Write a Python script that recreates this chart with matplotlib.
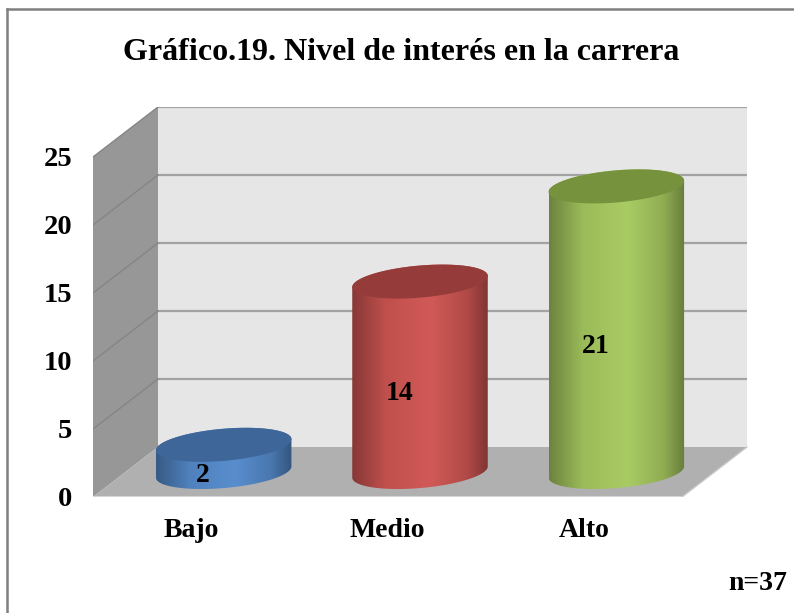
import numpy as np
import matplotlib
matplotlib.use("Agg")
import matplotlib.pyplot as plt
from matplotlib.patches import Polygon
from matplotlib.colors import to_rgb
from matplotlib.lines import Line2D

# ---- data ----
categories = ["Bajo", "Medio", "Alto"]
values = [2, 14, 21]
yticks = [0, 5, 10, 15, 20, 25]
title = "Gráfico.19. Nivel de interés en la carrera"
note = "n=37"

# ---- styles ----
body_cols = ["#4f81bd", "#c0504d", "#9bbb59"]
top_cols = ["#3e6699", "#953c3a", "#76923c"]

W, H = 794, 613
fig = plt.figure(figsize=(W / 100, H / 100), dpi=100)
plt.rcParams['font.family'] = ['Liberation Serif', 'DejaVu Serif']

# axes geometry in pixels
x_front_l, x_front_r = 93, 682
x_back_r = 748
y_front0, y_top_front = 497, 157
y_back_top = 107
ax = fig.add_axes([x_front_l / W, (H - y_front0) / H,
                   (x_back_r - x_front_l) / W, (y_front0 - y_back_top) / H])
SX = (x_front_r - x_front_l) / 3.0
SY = (y_front0 - y_top_front) / 25.0
DX = 65 / SX
DY = 50 / SY
xmin, xmax = -0.5, 2.5
ymax = 25

for s in ax.spines.values():
    s.set_visible(False)
ax.patch.set_alpha(0)

# walls
back = Polygon([(xmin + DX, DY), (xmax + DX, DY), (xmax + DX, ymax + DY), (xmin + DX, ymax + DY)],
               closed=True, facecolor="#e6e6e6", edgecolor="none", zorder=1)
ax.add_patch(back)
left = Polygon([(xmin, 0), (xmin, ymax), (xmin + DX, ymax + DY), (xmin + DX, DY)],
               closed=True, facecolor="#979797", edgecolor="none", zorder=1)
ax.add_patch(left)
floor = Polygon([(xmin, 0), (xmax, 0), (xmax + DX, DY), (xmin + DX, DY)],
                closed=True, facecolor="#b0b0b0", edgecolor="none", zorder=2)
ax.add_patch(floor)
ax.plot([xmin, xmax], [0, 0], color="#d4d4d4", lw=1.5, zorder=2.5, solid_capstyle="butt")
ax.plot([xmax, xmax + DX], [0, DY], color="#c8c8c8", lw=1.0, zorder=2.5)

# gridlines
for v in yticks[1:]:
    ax.plot([xmin + DX, xmax + DX], [v + DY, v + DY], color="#a3a3a3", lw=1.6, zorder=1.5,
            solid_capstyle="butt")
    ax.plot([xmin, xmin + DX], [v, v + DY], color="#858585", lw=1.0, zorder=1.5)


def ellipse_pts(cx, cy, a=68, b=16, th=np.deg2rad(5), n=400):
    t = np.linspace(0, 2 * np.pi, n, endpoint=False)
    px = a * np.cos(t) * np.cos(th) - b * np.sin(t) * np.sin(th)
    py = a * np.cos(t) * np.sin(th) + b * np.sin(t) * np.cos(th)
    return t, cx + px / SX, cy + py / SY


def gradient_img(base):
    base = np.array(to_rgb(base))
    dark = base * 0.7
    light = np.clip(base * 1.06 + 0.02, 0, 1)
    u = np.linspace(0, 1, 256)
    stops = [0, 0.25, 0.58, 0.85, 1.0]
    cols = [dark, base, light, base * 0.92, dark * 0.95]
    img = np.zeros((1, 256, 3))
    for c in range(3):
        img[0, :, c] = np.interp(u, stops, [col[c] for col in cols])
    return img


for i, (v, bc, tc) in enumerate(zip(values, body_cols, top_cols)):
    cx = i + DX / 2
    cy0 = DY / 2
    t, ex, ey = ellipse_pts(cx, cy0)
    il, ir = np.argmin(ex), np.argmax(ex)
    arc1 = []
    k = il
    while True:
        arc1.append(k)
        if k == ir:
            break
        k = (k + 1) % len(t)
    arc2 = []
    k = il
    while True:
        arc2.append(k)
        if k == ir:
            break
        k = (k - 1) % len(t)
    lower = arc1 if ey[arc1].min() < ey[arc2].min() else arc2
    upper = arc2 if lower is arc1 else arc1
    bx, by = ex[lower], ey[lower]
    tx, ty = ex[upper][::-1], ey[upper][::-1] + v
    poly_x = np.concatenate([bx, tx])
    poly_y = np.concatenate([by, ty])
    body = Polygon(np.column_stack([poly_x, poly_y]), closed=True, facecolor="none",
                   edgecolor="none", zorder=3)
    ax.add_patch(body)
    im = ax.imshow(gradient_img(bc), extent=[ex.min(), ex.max(), ey.min() - 0.5, ey.max() + v + 0.5],
                   aspect="auto", zorder=3, interpolation="bilinear")
    im.set_clip_path(body)
    top = Polygon(np.column_stack([ex, ey + v]), closed=True, facecolor=tc, edgecolor="none",
                  zorder=4)
    ax.add_patch(top)
    ax.text(i + 0.06, v / 2 + 0.6, str(v), ha="center", va="center", fontsize=20,
            fontweight="bold", zorder=6)

ax.set_xlim(xmin, xmax + (x_back_r - x_front_r) / SX)
ax.set_ylim(0, ymax + (y_front0 - y_back_top - (y_front0 - y_top_front)) / SY)

ax.set_yticks(yticks)
ax.set_yticklabels([str(y) for y in yticks], fontsize=20.5, fontweight="bold")
ax.set_xticks(range(len(categories)))
ax.set_xticklabels(categories, fontsize=20, fontweight="bold")
ax.tick_params(axis="y", length=0, pad=15)
ax.tick_params(axis="x", length=0, pad=15)

fig.text(401 / W, 1 - 52 / H, title, ha="center", va="center", fontsize=23, fontweight="bold")
fig.text(787 / W, 1 - 583 / H, note, ha="right", va="center", fontsize=20, fontweight="bold")

# outer border (top and left)
fig.add_artist(Line2D([7 / W, 1], [1 - 9 / H, 1 - 9 / H], color="#808080", lw=1.8,
                      transform=fig.transFigure))
fig.add_artist(Line2D([7 / W, 7 / W], [0, 1 - 9 / H], color="#808080", lw=1.8,
                      transform=fig.transFigure))

fig.savefig("out.png", dpi=100)
